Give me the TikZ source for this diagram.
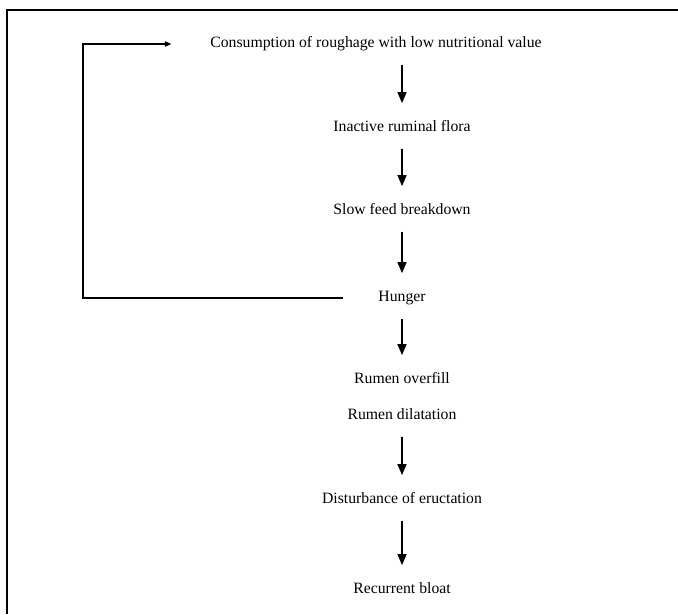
\documentclass[tikz,border=0pt]{standalone}
\usepackage{fontspec}
\setmainfont{Liberation Serif}
\usetikzlibrary{arrows.meta,positioning}

\begin{document}
\begin{tikzpicture}[
    x=0.75pt, y=-0.75pt,
    stage/.style={inner sep=0pt, text height=8pt, text depth=2.5pt, font=\fontsize{11.8}{14}\selectfont},
    down/.style={-{Triangle[length=8.5pt,width=6.5pt]}, line width=1.8pt, shorten <=10pt, shorten >=13pt},
    feedback/.style={-{Triangle[length=5pt,width=4pt]}, line width=1pt, shorten <=26pt, shorten >=29pt}
]
    \useasboundingbox (0,0) rectangle (678,614);

    % Frame (top and left edge only)
    \draw[line width=1.3pt] (7,614) -- (7,10) -- (678,10);

    % Stages
    \node[stage] (cons) at (376,44) {Consumption of roughage with low nutritional value};
    \node[stage] (flora) at (402,128) {Inactive ruminal flora};
    \node[stage] (slow) at (402,211) {Slow feed breakdown};
    \node[stage] (hunger) at (402,298) {Hunger};
    \node[stage] (overfill) at (402,380) {Rumen overfill};
    \node[stage] (dilat) at (402,416) {Rumen dilatation};
    \node[stage] (eruct) at (402,500) {Disturbance of eructation};
    \node[stage] (bloat) at (402,590) {Recurrent bloat};

    % Chain
    \draw[down] (flora |- cons.south) -- (flora);
    \draw[down] (flora) -- (slow);
    \draw[down] (slow) -- (hunger);
    \draw[down] (hunger) -- (overfill);
    \draw[down] (dilat) -- (eruct);
    \draw[down] (eruct) -- (bloat);

    % Feedback loop
    \coordinate (back) at (83,170);
    \draw[feedback] (hunger.west) -| (back) |- (cons.west);
\end{tikzpicture}
\end{document}
